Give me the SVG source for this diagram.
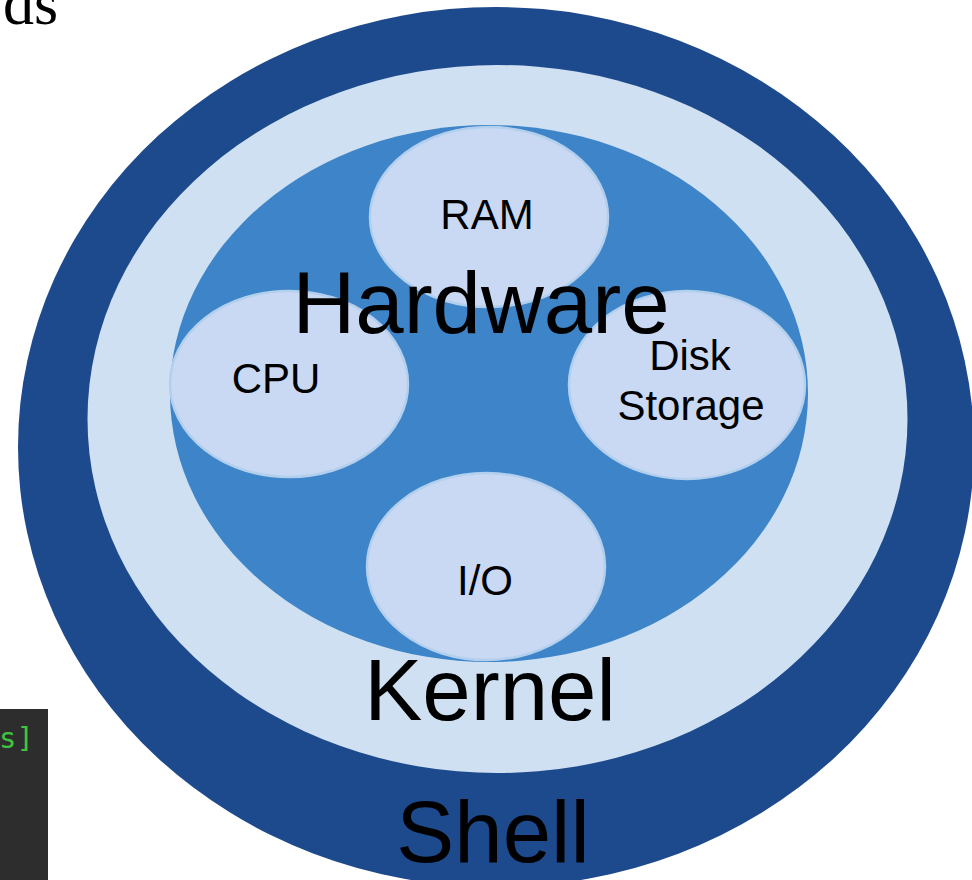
<svg xmlns="http://www.w3.org/2000/svg" width="972" height="880" viewBox="0 0 972 880">
  <style>
    .lbl { font-family: "Liberation Sans", Arial, sans-serif; fill: #000; text-anchor: middle; }
    .big { font-size: 87px; }
    .small { font-size: 42px; }
    .part { fill: #c9d9f3; stroke: #b3cfee; stroke-width: 2.5; }
  </style>
  <rect x="0" y="0" width="972" height="880" fill="#ffffff"/>
  <text x="3" y="24" font-family="'Liberation Serif', 'Times New Roman', serif" font-size="62" fill="#000">ds</text>
  <g id="terminal">
    <rect x="0" y="709" width="48" height="171" fill="#2d2d2d"/>
    <text x="-1" y="748" font-family="'DejaVu Sans Mono', 'Liberation Mono', monospace" font-size="29" fill="#3fc43f">s]</text>
  </g>
  <g id="shell">
    <ellipse cx="496" cy="447" rx="478" ry="440" fill="#1d4a8d"/>
  </g>
  <g id="kernel">
    <ellipse cx="497.5" cy="419" rx="410" ry="354" fill="#cee0f2"/>
  </g>
  <g id="hardware">
    <ellipse cx="489" cy="393.5" rx="319" ry="268.5" fill="#3e84c8"/>
  </g>
  <g id="ram">
    <ellipse class="part" cx="489" cy="217" rx="119" ry="90"/>
    <text class="lbl small" x="487" y="229">RAM</text>
  </g>
  <g id="cpu">
    <ellipse class="part" cx="289" cy="384" rx="119" ry="93"/>
    <text class="lbl small" x="276" y="393">CPU</text>
  </g>
  <g id="disk">
    <ellipse class="part" cx="687" cy="385" rx="118" ry="94"/>
    <text class="lbl small" x="690" y="370">Disk</text>
    <text class="lbl small" x="691" y="420">Storage</text>
  </g>
  <g id="io">
    <ellipse class="part" cx="486" cy="566.5" rx="119" ry="93.5"/>
    <text class="lbl small" x="485" y="595">I/O</text>
  </g>
  <g id="labels">
    <text class="lbl big" x="481" y="333" font-size="89">Hardware</text>
    <text class="lbl big" x="490" y="720">Kernel</text>
    <text class="lbl big" x="493" y="862">Shell</text>
  </g>
  <g id="connectors"/>
</svg>
